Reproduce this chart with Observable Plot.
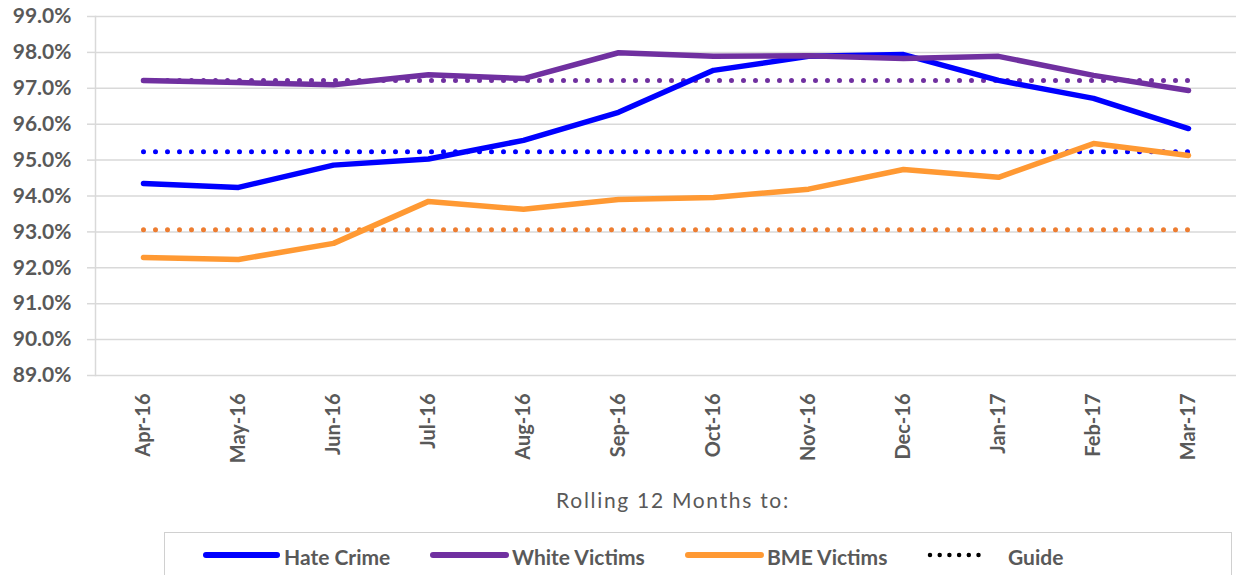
<!DOCTYPE html>
<html>
<head>
<meta charset="utf-8">
<script src="https://cdn.jsdelivr.net/npm/d3@7"></script>
<script src="https://cdn.jsdelivr.net/npm/@observablehq/plot@0.6"></script>
<style>
  html, body { margin: 0; padding: 0; background: #fff; }
  body { width: 1236px; height: 575px; overflow: hidden; font-family: Lato, "Open Sans", sans-serif; position: relative; }
  #legend {
    position: absolute; left: 164px; top: 532px; width: 1068px; height: 60px;
    border: 1.5px solid #d0d0d0; box-sizing: border-box;
    font-family: Lato, sans-serif; font-weight: bold; font-size: 21px; color: #595959;
  }
  .sw { position: absolute; top: 16.5px; line-height: 0; }
  .sw svg { display: block; }
  .lbl { position: absolute; top: 11px; line-height: 26px; white-space: nowrap; }
</style>
</head>
<body>
<div id="chart"></div>
<div id="legend"></div>
<script>
const months = ["Apr-16","May-16","Jun-16","Jul-16","Aug-16","Sep-16","Oct-16","Nov-16","Dec-16","Jan-17","Feb-17","Mar-17"];
const hateCrime    = [94.35, 94.24, 94.86, 95.03, 95.55, 96.33, 97.50, 97.89, 97.94, 97.22, 96.72, 95.88];
const whiteVictims = [97.22, 97.16, 97.10, 97.38, 97.27, 97.99, 97.89, 97.91, 97.83, 97.89, 97.36, 96.94];
const bmeVictims   = [92.29, 92.23, 92.68, 93.85, 93.63, 93.90, 93.96, 94.19, 94.74, 94.52, 95.46, 95.13];
const guideHate  = 95.23;
const guideWhite = 97.22;
const guideBME   = 93.06;
const yTicks = [89, 90, 91, 92, 93, 94, 95, 96, 97, 98, 99];

const seriesNames = ["Hate Crime", "White Victims", "BME Victims"];
const seriesColors = ["#0000ff", "#7030a0", "#ff9933"];
const guideColors = ["#0000ff", "#7030a0", "#ed7d31"];

const rows = [];
[hateCrime, whiteVictims, bmeVictims].forEach((arr, i) =>
  arr.forEach((v, j) => rows.push({series: seriesNames[i], month: months[j], value: v})));
const guides = [];
[guideHate, guideWhite, guideBME].forEach((g, i) =>
  months.forEach(m => guides.push({series: seriesNames[i], month: m, value: g})));

const chart = Plot.plot({
  width: 1236,
  height: 530,
  marginLeft: 95,
  marginRight: 0,
  marginTop: 16,
  marginBottom: 155,
  style: {fontFamily: "Lato, sans-serif", color: "#595959", background: "#fff", overflow: "visible"},
  x: {type: "point", domain: months, padding: 0.5},
  y: {domain: [89, 99]},
  color: {domain: seriesNames, range: seriesColors},
  marks: [
    Plot.gridY(yTicks, {stroke: "#d9d9d9", strokeOpacity: 1, strokeWidth: 1.5}),
    Plot.axisY(yTicks, {tickSize: 8, stroke: "#d9d9d9", strokeWidth: 1.5, tickPadding: 16,
      tickFormat: d => d.toFixed(1) + "%", fontSize: 21, fontWeight: "bold", fill: "#595959", label: null}),
    Plot.frame({anchor: "left", stroke: "#d9d9d9", strokeWidth: 1.5}),
    Plot.axisX({tickSize: 0, tickPadding: 18, tickRotate: -90, fontSize: 20, fontWeight: "bold",
      fill: "#595959", label: "Rolling 12 Months to:", labelAnchor: "center", labelArrow: "none", labelOffset: 132}),
    Plot.line(guides, {x: "month", y: "value", z: "series",
      stroke: d => guideColors[seriesNames.indexOf(d.series)],
      strokeWidth: 5, strokeLinecap: "round", strokeDasharray: "0,12"}),
    Plot.line(rows, {x: "month", y: "value", z: "series", stroke: "series",
      strokeWidth: 5.5, strokeLinejoin: "round", strokeLinecap: "round"})
  ]
});
chart.querySelectorAll('[aria-label="x-axis label"]').forEach(el => {
  el.setAttribute("font-size", "21"); el.setAttribute("font-weight", "normal");
  el.setAttribute("letter-spacing", "1.7");
  el.querySelectorAll("text").forEach(t => {
    t.setAttribute("font-size", "21"); t.setAttribute("font-weight", "normal"); t.setAttribute("dx", "7");
  });
});
document.getElementById("chart").appendChild(chart);

const legend = document.getElementById("legend");
const items = [
  {name: "Hate Crime", color: seriesColors[0], sw: 41, swEnd: 112, text: 119, dotted: false},
  {name: "White Victims", color: seriesColors[1], sw: 268, swEnd: 341, text: 347, dotted: false},
  {name: "BME Victims", color: seriesColors[2], sw: 523, swEnd: 596, text: 602, dotted: false},
  {name: "Guide", color: "#000", sw: 765, swEnd: 815, text: 843, dotted: true}
];
items.forEach(it => {
  const w = it.swEnd - it.sw + 8;
  const sw = document.createElement("div");
  sw.className = "sw";
  sw.style.left = (it.sw - 4) + "px";
  sw.innerHTML = it.dotted
    ? `<svg width="${w}" height="10"><line x1="4" x2="${w - 4}" y1="5" y2="5" stroke="#000" stroke-width="4.5" stroke-linecap="round" stroke-dasharray="0,9.7"/></svg>`
    : `<svg width="${w}" height="10"><line x1="4" x2="${w - 4}" y1="5" y2="5" stroke="${it.color}" stroke-width="6" stroke-linecap="round"/></svg>`;
  legend.appendChild(sw);
  const lbl = document.createElement("div");
  lbl.className = "lbl";
  lbl.style.left = it.text + "px";
  lbl.textContent = it.name;
  legend.appendChild(lbl);
});
</script>
</body>
</html>
